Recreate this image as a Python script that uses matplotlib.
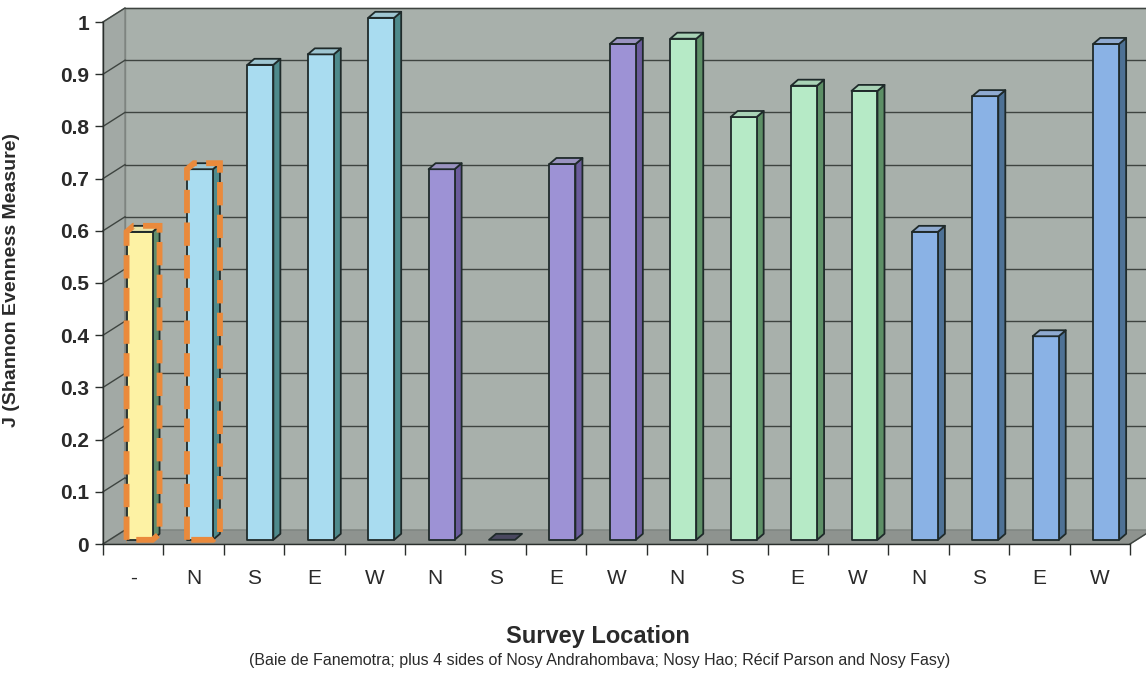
import matplotlib.pyplot as plt
from matplotlib.patches import Polygon

plt.rcParams['font.family'] = ['Liberation Sans', 'DejaVu Sans']

# survey sides along the x axis and their evenness values
sides = ['-', 'N', 'S', 'E', 'W', 'N', 'S', 'E', 'W',
         'N', 'S', 'E', 'W', 'N', 'S', 'E', 'W']
j_values = [0.59, 0.71, 0.91, 0.93, 1.00, 0.71, 0.00, 0.72, 0.95,
            0.96, 0.81, 0.87, 0.86, 0.59, 0.85, 0.39, 0.95]
# 0 Baie de Fanemotra, 1 Nosy Andrahombava, 2 Nosy Hao, 3 Recif Parson, 4 Nosy Fasy
site_group = [0, 1, 1, 1, 1, 2, 2, 2, 2, 3, 3, 3, 3, 4, 4, 4, 4]
highlighted = [0, 1]
y_ticks = [0, 0.1, 0.2, 0.3, 0.4, 0.5, 0.6, 0.7, 0.8, 0.9, 1.0]
y_tick_labels = ['0', '0.1', '0.2', '0.3', '0.4', '0.5', '0.6', '0.7', '0.8', '0.9', '1']

face_colors = ['#FDF2A4', '#A9DCF0', '#9D92D5', '#B6EAC6', '#8AB2E5']
top_colors = ['#E8E3A8', '#9FC6D2', '#9A93C0', '#A9D3B6', '#8FAAD0']
side_colors = ['#5F8C6C', '#4E8A8C', '#6B5C9C', '#5D8F66', '#4E7195']

# depth of the box (back wall offset) and of each bar, in data units
DX, DY = 0.364, 0.0268
BDX, BDY = 0.116, 0.0115
BAR_OFF, BAR_W, BAR_BASE = 0.39, 0.43, 0.008

n = len(sides)

fig = plt.figure(figsize=(11.46, 6.75), dpi=100)
ax = fig.add_axes([103 / 1146, 131 / 675, 1027 / 1146, 522 / 675])
ax.set_xlim(0, n)
ax.set_ylim(0, 1)
ax.patch.set_alpha(0)

wall = '#A8B0AB'
edge = '#7E8480'
grid = '#3E4440'

# back wall, floor and left side wall
ax.add_patch(Polygon([(DX, DY), (n + DX, DY), (n + DX, 1 + DY), (DX, 1 + DY)],
                     closed=True, fc=wall, ec=edge, lw=1, clip_on=False, zorder=0))
ax.add_patch(Polygon([(0, 0), (n, 0), (n + DX, DY), (DX, DY)],
                     closed=True, fc='#8E938F', ec=edge, lw=1, clip_on=False, zorder=1))
ax.add_patch(Polygon([(0, 0), (DX, DY), (DX, 1 + DY), (0, 1)],
                     closed=True, fc='#A2A9A5', ec=edge, lw=1, clip_on=False, zorder=1))

for y in y_ticks[1:]:
    ax.plot([DX, n + DX], [y + DY, y + DY], color=grid, lw=1, clip_on=False, zorder=1.5)
for y in y_ticks:
    ax.plot([0, DX], [y, y + DY], color=grid, lw=1, clip_on=False, zorder=1.5)
ax.plot([n, n + DX], [0, DY], color=grid, lw=1, clip_on=False, zorder=1.5)

# 3-D style bars: front face, right side and top
for i, (v, g) in enumerate(zip(j_values, site_group)):
    x0 = i + BAR_OFF
    x1 = x0 + BAR_W
    b = BAR_BASE
    t = b + v
    front = [(x0, b), (x1, b), (x1, t), (x0, t)]
    side = [(x1, b), (x1 + BDX, b + BDY), (x1 + BDX, t + BDY), (x1, t)]
    top = [(x0, t), (x1, t), (x1 + BDX, t + BDY), (x0 + BDX, t + BDY)]
    kw = dict(closed=True, ec='#1F2A2A', lw=1.3, clip_on=False, zorder=3,
              joinstyle='round')
    if v > 0:
        ax.add_patch(Polygon(side, fc=side_colors[g], **kw))
        ax.add_patch(Polygon(front, fc=face_colors[g], **kw))
        ax.add_patch(Polygon(top, fc=top_colors[g], **kw))
    else:
        ax.add_patch(Polygon(top, fc='#4A4860', **kw))
    if i in highlighted:
        outline = [(x0, b), (x0, t), (x0 + BDX, t + BDY), (x1 + BDX, t + BDY),
                   (x1 + BDX, b + BDY), (x1, b)]
        ax.add_patch(Polygon(outline, closed=True, fill=False, ec='#EA8A3C',
                             lw=4.2, ls=(0, (4, 1.6)), clip_on=False, zorder=4))

# axes
for s in ['top', 'right']:
    ax.spines[s].set_visible(False)
for s in ['left', 'bottom']:
    ax.spines[s].set_color('#2A2E2C')
    ax.spines[s].set_linewidth(1)
    ax.spines[s].set_zorder(5)

ax.set_yticks(y_ticks)
ax.set_yticklabels(y_tick_labels, fontsize=15, fontweight='bold', color='#2A2A2A')
ax.tick_params(axis='y', direction='out', length=6, width=1, color='#2A2E2C', pad=4)

ax.set_xticks(range(n + 1))
ax.set_xticklabels([])
ax.tick_params(axis='x', which='major', direction='out', length=8, width=1,
               color='#2A2E2C')
ax.set_xticks([i + 0.5 for i in range(n)], minor=True)
ax.set_xticklabels(sides, minor=True, fontsize=15, color='#2A2A2A')
ax.tick_params(axis='x', which='minor', length=0, pad=18)

ax.set_ylabel('J (Shannon Evenness Measure)', fontsize=14, fontweight='bold',
              color='#2A2A2A')
ax.yaxis.set_label_coords(-0.081, 0.506)

fig.text(0.5215, 1 - 636 / 675, 'Survey Location', ha='center', va='center',
         fontsize=17, fontweight='bold', color='#2A2A2A')
fig.text(0.523, 1 - 661 / 675,
         '(Baie de Fanemotra; plus 4 sides of Nosy Andrahombava; Nosy Hao; '
         'Récif Parson and Nosy Fasy)',
         ha='center', va='center', fontsize=11.5, color='#2A2A2A')

fig.savefig('out.png', dpi=100, facecolor='white')
